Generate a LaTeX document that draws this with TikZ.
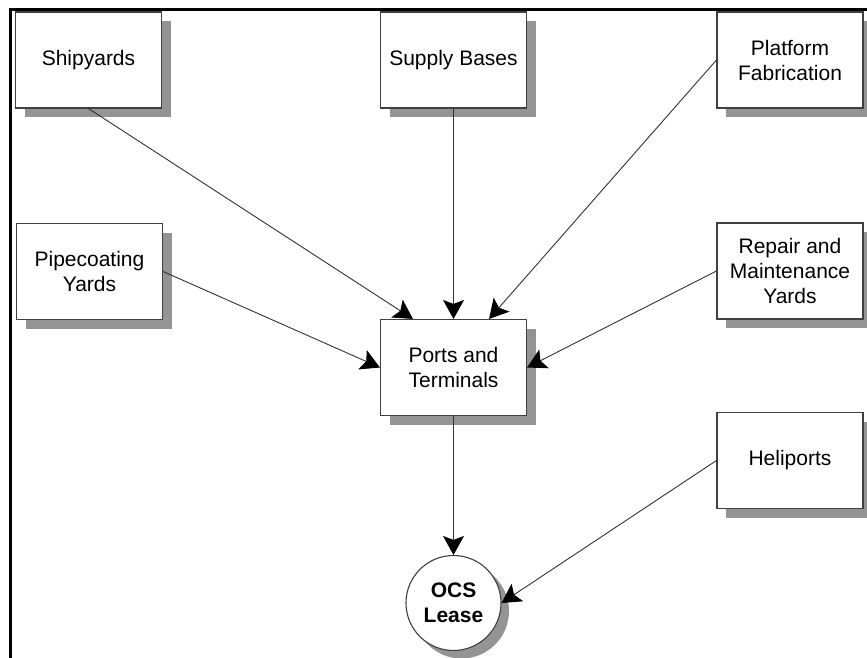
\documentclass[tikz,border=0pt]{standalone}
\usepackage{fontspec}
\setmainfont{Liberation Sans}
\usetikzlibrary{arrows.meta,shadows}
\tikzset{
  box/.style={draw=black!75, line width=1.1pt, fill=white, rectangle,
    minimum width=146pt, minimum height=96pt, align=center, inner sep=2pt,
    font=\fontsize{21}{25}\selectfont,
    general shadow={fill=black!42, shadow xshift=9pt, shadow yshift=-9pt}},
  lease/.style={draw=black!75, line width=1.1pt, fill=white, circle,
    minimum size=95pt, inner sep=0pt, align=center,
    font=\fontsize{21}{25}\selectfont\bfseries,
    general shadow={fill=black!42, shadow xshift=8pt, shadow yshift=-8pt}},
  conn/.style={draw=black!80, line width=0.9pt,
    -{Stealth[length=19pt,width=21pt,inset=4pt,color=black]}},
  frame/.style={line width=3pt, black}
}
\begin{document}
\begin{tikzpicture}[x=1pt,y=-1pt]
\useasboundingbox (0,0) rectangle (867,658);
\fill[white] (0,0) rectangle (867,658);
\coordinate (fc) at (10,658);
\coordinate (ft) at (10,10);
\coordinate (fr) at (867,10);
\draw[frame] (fc) -- (ft) -- (fr);

\node[box] (ship) at (88.5,60) {Shipyards};
\node[box] (supply) at (453.5,60) {Supply Bases};
\node[box] (plat) at (790,60) {Platform\\Fabrication};
\node[box] (pipe) at (89.5,271.5) {Pipecoating\\Yards};
\node[box] (ports) at (453.5,367.5) {Ports and\\Terminals};
\node[box] (repair) at (790,271) {Repair and\\Maintenance\\Yards};
\node[box] (heli) at (790,460.5) {Heliports};
\node[lease] (ocs) at (453.5,603) {OCS\\Lease};

\draw[conn] (ship.south) -- ([xshift=33pt]ports.north west);
\draw[conn] (supply.south) -- (ports.north);
\draw[conn] (plat.west) -- ([xshift=-38pt]ports.north east);
\draw[conn] (pipe.east) -- (ports.west);
\draw[conn] (repair.west) -- (ports.east);
\draw[conn] (ports.south) -- (ocs.north);
\draw[conn] (heli.west) -- (ocs.east);
\end{tikzpicture}
\end{document}
